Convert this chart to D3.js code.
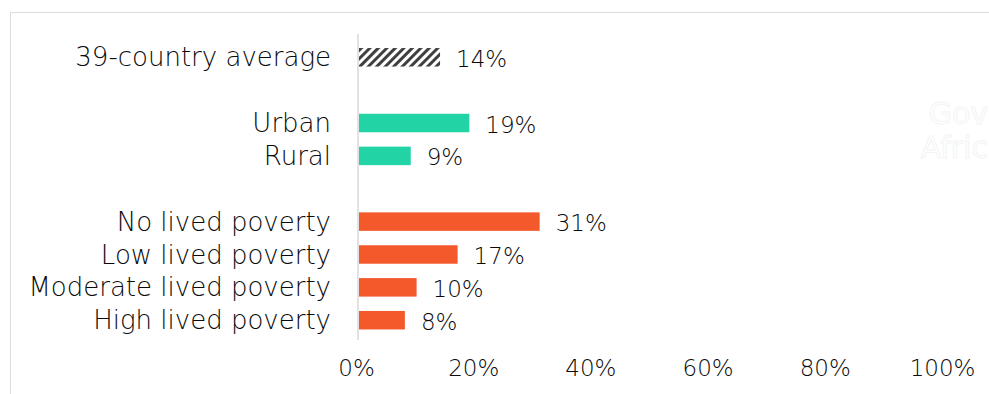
<!DOCTYPE html>
<html>
<head>
<meta charset="utf-8">
<script src="https://cdn.jsdelivr.net/npm/d3@7"></script>
<style>
  html, body { margin: 0; padding: 0; background: #fff; }
  svg { display: block; }
  text { font-family: "DejaVu Sans", sans-serif; fill: #0a0a0a; }
</style>
</head>
<body>
<svg id="chart" width="989" height="394"></svg>
<script>
// Share of respondents, by group
const categories = [
  "39-country average", "", "Urban", "Rural", " ",
  "No lived poverty", "Low lived poverty", "Moderate lived poverty", "High lived poverty"
];
const values = [14, null, 19, 9, null, 31, 17, 10, 8];
const groups = ["avg", null, "loc", "loc", null, "pov", "pov", "pov", "pov"];
const tickValues = [0, 20, 40, 60, 80, 100];

const colors = { avg: "url(#hatch)", loc: "#22D3A5", pov: "#F4592B" };
const LABEL_SIZE = 26;
const NUM_SIZE = 23;

const svg = d3.select("#chart");

// frame
svg.append("path")
  .attr("d", "M10.5,394 V12.5 H989")
  .attr("fill", "none").attr("stroke", "#dcdcdc").attr("stroke-width", 1);

// faint background wordmark
const wm = svg.append("g").attr("font-size", 30).attr("text-anchor", "end");
wm.append("text").attr("x", 988).attr("y", 124).text("Gov")
  .style("fill", "#fff").style("stroke", "#f4f4f4").style("stroke-width", 1);
wm.append("text").attr("x", 988).attr("y", 158).text("Afric")
  .style("fill", "#fff").style("stroke", "#f4f4f4").style("stroke-width", 1);

// hatch pattern for the average bar
const defs = svg.append("defs");
const pat = defs.append("pattern")
  .attr("id", "hatch").attr("patternUnits", "userSpaceOnUse")
  .attr("width", 6).attr("height", 6)
  .attr("patternTransform", "rotate(45)");
pat.append("rect").attr("width", 6).attr("height", 6).attr("fill", "#fff");
pat.append("rect").attr("width", 3).attr("height", 6).attr("fill", "#404040");

const x = d3.scaleLinear().domain([0, 100]).range([358, 944]);
const y = d3.scaleBand().domain(categories).range([40.6, 336.4]).paddingInner(0.44).paddingOuter(0.22);

// zero line
svg.append("line")
  .attr("x1", x(0)).attr("x2", x(0))
  .attr("y1", 34).attr("y2", 340)
  .attr("stroke", "#d9d9d9").attr("stroke-width", 1.5);

const rows = categories.map((c, i) => ({ c, v: values[i], g: groups[i] })).filter(d => d.v != null);

// bars
svg.append("g").selectAll("rect").data(rows).join("rect")
  .attr("x", x(0) + 1)
  .attr("y", d => y(d.c) + y.bandwidth() / 2 - 9)
  .attr("width", d => x(d.v) - x(0) - 1)
  .attr("height", 18.5)
  .attr("fill", d => colors[d.g]);

// category labels
svg.append("g").selectAll("text").data(rows).join("text")
  .attr("x", 331)
  .attr("y", d => y(d.c) + y.bandwidth() / 2)
  .attr("dy", "0.36em")
  .attr("text-anchor", "end")
  .attr("font-size", LABEL_SIZE)
  .attr("font-weight", 300)
  .text(d => d.c);

// value labels
svg.append("g").selectAll("text").data(rows).join("text")
  .attr("x", d => x(d.v) + 16)
  .attr("y", d => y(d.c) + y.bandwidth() / 2 + 1.5)
  .attr("dy", "0.36em")
  .attr("font-size", NUM_SIZE)
  .attr("font-weight", 300)
  .text(d => d.v + "%");

// x axis labels
const axis = d3.axisBottom(x).tickValues(tickValues).tickFormat(d => d + "%").tickSize(0).tickPadding(0);
const ax = svg.append("g").attr("transform", "translate(-2,360)").call(axis);
ax.select(".domain").remove();
ax.selectAll("text")
  .attr("font-size", NUM_SIZE).attr("font-weight", 300)
  .style("font-family", "'DejaVu Sans', sans-serif").style("fill", "#0a0a0a");
</script>
</body>
</html>
